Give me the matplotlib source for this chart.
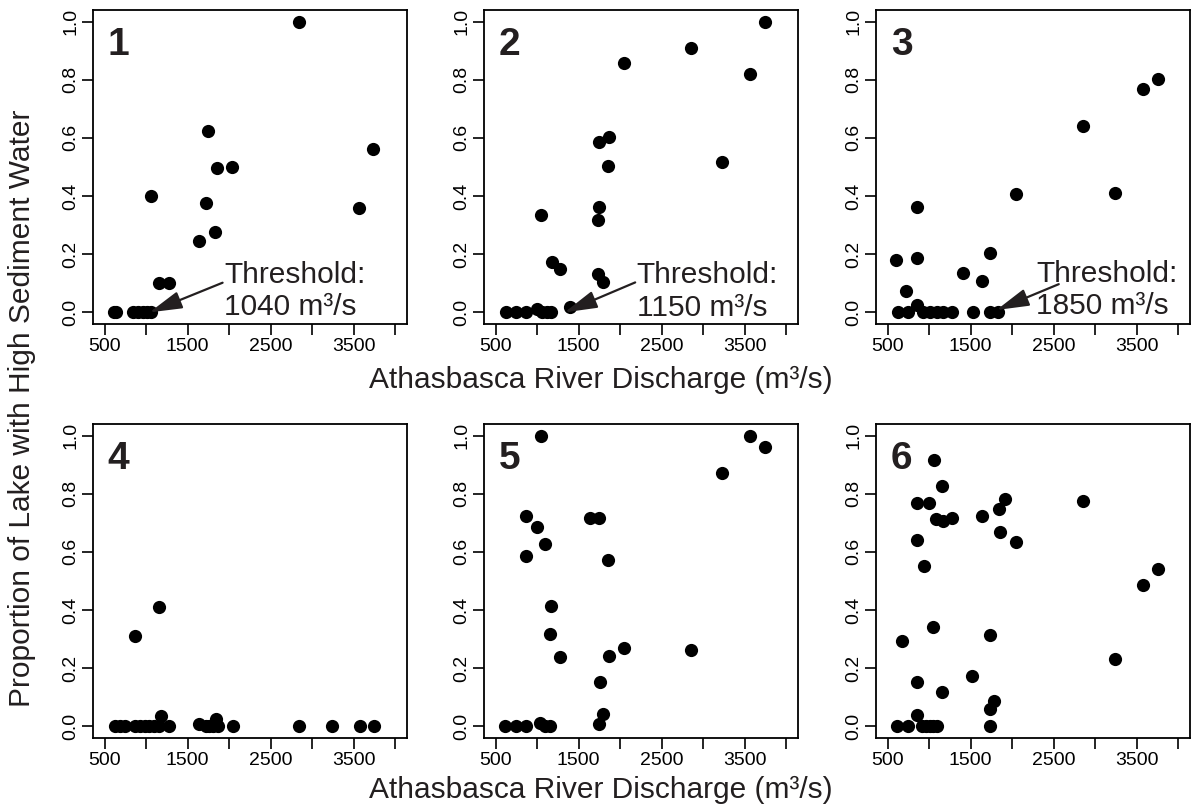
import numpy as np
import matplotlib
matplotlib.use("Agg")
import matplotlib.pyplot as plt

plt.rcParams['font.family'] = ['Liberation Sans', 'DejaVu Sans']

# discharge (m3/s) and proportion of lake with high sediment water, per zone
x1 = [610, 635, 840, 900, 960, 1010, 1060, 1060, 1150, 1270, 1640, 1720, 1750, 1830, 1850, 2030, 2840, 3560, 3730]
y1 = [0, 0, 0, 0, 0, 0, 0, 0.40, 0.10, 0.10, 0.245, 0.375, 0.624, 0.278, 0.495, 0.50, 1.0, 0.358, 0.562]

x2 = [620, 740, 870, 1000, 1060, 1120, 1170, 1400, 1050, 1180, 1270, 1730, 1790, 1730, 1750, 1750, 1860, 1850, 2040, 2850, 3230, 3560, 3740]
y2 = [0, 0, 0, 0.01, 0, 0, 0, 0.018, 0.334, 0.172, 0.15, 0.133, 0.103, 0.317, 0.363, 0.587, 0.603, 0.505, 0.859, 0.91, 0.517, 0.821, 1.0]

x3 = [600, 720, 850, 850, 850, 620, 740, 930, 1010, 1090, 1170, 1270, 1530, 1730, 1830, 1410, 1640, 1730, 2040, 2850, 3240, 3570, 3750]
y3 = [0.18, 0.073, 0.364, 0.188, 0.025, 0, 0, 0, 0, 0, 0, 0, 0, 0, 0, 0.134, 0.109, 0.203, 0.406, 0.642, 0.409, 0.768, 0.803]

x4 = [620, 680, 740, 860, 920, 980, 1040, 1100, 1150, 1280, 860, 1150, 1180, 1640, 1720, 1760, 1800, 1840, 1870, 2040, 2840, 3240, 3570, 3740]
y4 = [0, 0, 0, 0, 0, 0, 0, 0, 0, 0, 0.312, 0.411, 0.037, 0.009, 0, 0, 0, 0.026, 0, 0, 0, 0, 0, 0]

x5 = [610, 740, 870, 1040, 1100, 1160, 1050, 860, 860, 1000, 1090, 1170, 1150, 1270, 1640, 1740, 1850, 1860, 1760, 1790, 1740, 2040, 2850, 3230, 3560, 3740]
y5 = [0, 0, 0, 0.013, 0, 0, 1.0, 0.724, 0.587, 0.687, 0.627, 0.414, 0.316, 0.239, 0.715, 0.715, 0.572, 0.241, 0.153, 0.044, 0.009, 0.268, 0.262, 0.873, 1.0, 0.962]

x6 = [610, 750, 910, 960, 1010, 1050, 1090, 1730, 670, 850, 850, 850, 850, 940, 1000, 1060, 1050, 1080, 1170, 1280, 1160, 1150, 1520, 1640, 1730, 1730, 1780, 1840, 1910, 1850, 2040, 2850, 3240, 3570, 3750]
y6 = [0, 0, 0, 0, 0, 0, 0, 0, 0.292, 0.151, 0.040, 0.767, 0.641, 0.553, 0.767, 0.916, 0.341, 0.714, 0.708, 0.716, 0.828, 0.117, 0.174, 0.725, 0.313, 0.060, 0.086, 0.749, 0.781, 0.668, 0.633, 0.775, 0.233, 0.487, 0.542]

panel_x = [x1, x2, x3, x4, x5, x6]
panel_y = [y1, y2, y3, y4, y5, y6]
panel_names = ["1", "2", "3", "4", "5", "6"]

# thresholds: label, arrow tip, arrow start, text position
thresholds = {
    0: ("1040", (1040, 0.0), (1920, 0.102), (1940, 0.102)),
    1: ("1150", (1330, 0.0), (2180, 0.103), (2200, 0.101)),
    2: ("1850", (1810, 0.008), (2560, 0.097), (2290, 0.105)),
}

xticks = [500, 1000, 1500, 2000, 2500, 3000, 3500, 4000]
xticklabels = ["500", "", "1500", "", "2500", "", "3500", ""]
yticks = [0.0, 0.2, 0.4, 0.6, 0.8, 1.0]

txt = '#231f20'

fig = plt.figure(figsize=(11.94, 8.11), dpi=100)
lefts = [93 / 1194, 484 / 1194, 876 / 1194]
bottoms = [(811 - 324) / 811, (811 - 738) / 811]
w = 314 / 1194
h = 314 / 811

for i in range(6):
    ax = fig.add_axes([lefts[i % 3], bottoms[i // 3], w, h])
    ax.plot(panel_x[i], panel_y[i], 'o', color='black', markersize=9.5, markeredgewidth=0)
    ax.set_xlim(360, 4140)
    ax.set_ylim(-0.04, 1.04)
    ax.set_xticks(xticks)
    ax.set_xticklabels(xticklabels, fontsize=14)
    ax.set_yticks(yticks)
    ax.set_yticklabels(["%.1f" % v for v in yticks], fontsize=14, rotation=90, va='center')
    ax.tick_params(direction='out', length=8, width=1.2, pad=2, colors='black')
    ax.tick_params(axis='y', pad=2)
    for s in ax.spines.values():
        s.set_linewidth(1.3)
    ax.text(0.047, 0.945, panel_names[i], transform=ax.transAxes, fontsize=28,
            fontweight='bold', color=txt, ha='left', va='top')
    if i in thresholds:
        val, tip, start, tpos = thresholds[i]
        ax.annotate('', xy=tip, xytext=start,
                    arrowprops=dict(arrowstyle='-|>,head_length=1.0,head_width=0.27',
                                    mutation_scale=20, color=txt, lw=1.6,
                                    shrinkA=0, shrinkB=0))
        ax.text(tpos[0], tpos[1], "Threshold:", fontsize=21.5, color=txt,
                ha='left', va='baseline')
        ax.text(tpos[0], tpos[1] - 0.112, val + " m\u00b3/s", fontsize=21.5, color=txt,
                ha='left', va='baseline')

fig.text(0.503, 1 - 380 / 811, "Athasbasca River Discharge (m\u00b3/s)", fontsize=21.5,
         color=txt, ha='center', va='center')
fig.text(0.503, 1 - 790 / 811, "Athasbasca River Discharge (m\u00b3/s)", fontsize=21.5,
         color=txt, ha='center', va='center')
fig.text(22 / 1194, 1 - 408 / 811, "Proportion of Lake with High Sediment Water", fontsize=21.5,
         color=txt, ha='center', va='center', rotation=90)

fig.savefig("out.png", dpi=100)
